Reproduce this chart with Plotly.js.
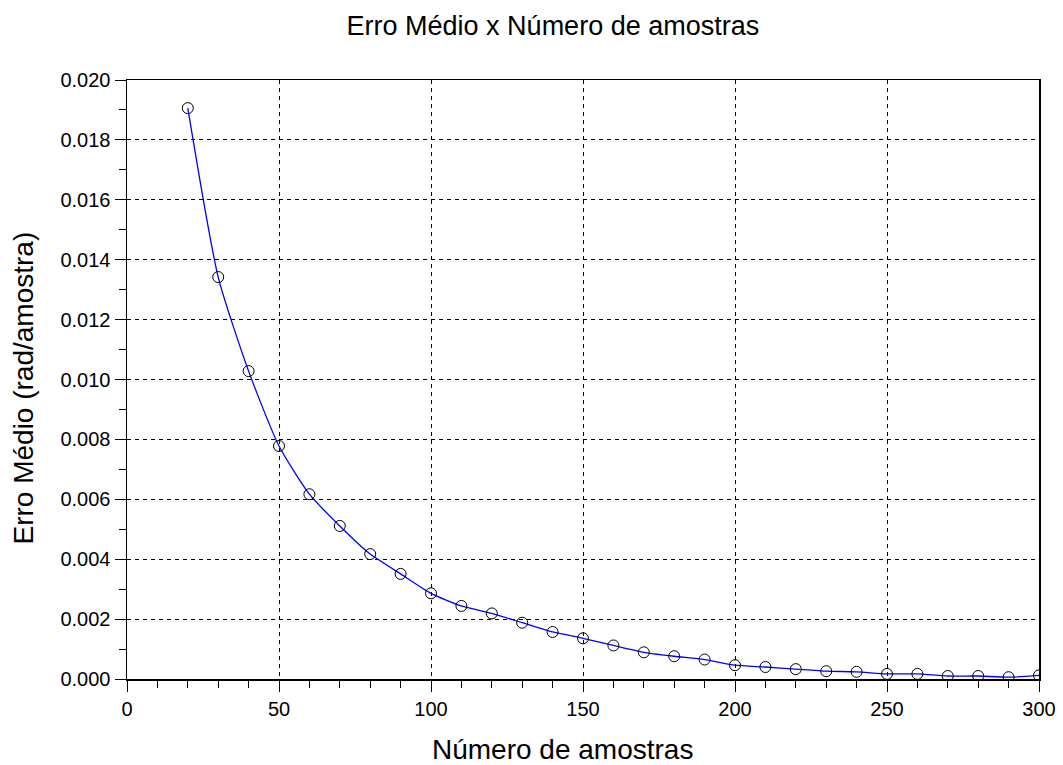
<!DOCTYPE html>
<html>
<head>
<meta charset="utf-8">
<script src="https://cdn.plot.ly/plotly-3.0.1.min.js"></script>
<style>html,body{margin:0;padding:0;background:#fff;}#chart{width:1063px;height:765px;}</style>
</head>
<body>
<div id="chart"></div>
<script>
const amostras = [20,30,40,50,60,70,80,90,100,110,120,130,140,150,160,170,180,190,200,210,220,230,240,250,260,270,280,290,300];
const erroMedio = [0.01906,0.01342,0.01028,0.00778,0.00617,0.00511,0.00417,0.00351,0.00286,0.00244,0.00219,0.00188,0.00157,0.00136,0.00112,0.00089,0.00076,0.00065,0.00046,0.00040,0.00033,0.00026,0.00024,0.00017,0.00017,0.00010,0.00010,0.00006,0.00012];

const titleText = 'Erro Médio x Número de amostras';
const xTitle = 'Número de amostras';
const yTitle = 'Erro Médio (rad/amostra)';

const fontFam = '"Liberation Sans", Arial, sans-serif';

const traces = [
  {
    x: amostras, y: erroMedio, type: 'scatter', mode: 'lines',
    line: {color: '#0000ff', width: 1.3, shape: 'spline', smoothing: 0.6},
    hoverinfo: 'skip', showlegend: false
  },
  {
    x: amostras, y: erroMedio, type: 'scatter', mode: 'markers',
    marker: {symbol: 'circle-open', size: 11, color: '#000', line: {width: 1, color: '#000'}},
    showlegend: false
  }
];

const layout = {
  width: 1063, height: 765,
  paper_bgcolor: '#fff', plot_bgcolor: '#fff',
  margin: {l: 127, r: 24, t: 80, b: 86},
  font: {family: fontFam, color: '#000'},
  title: {text: titleText, font: {size: 27, family: fontFam, color: '#000'}, x: 0.467, xref: 'paper', xanchor: 'center', y: 0.967, yref: 'container', yanchor: 'middle'},
  xaxis: {
    range: [0, 300], dtick: 50, tick0: 0,
    ticks: 'outside', ticklen: 11, tickwidth: 1, tickcolor: '#000',
    showline: true, linecolor: '#000', linewidth: 1.5, mirror: true,
    showgrid: true, gridcolor: '#000', gridwidth: 1, griddash: '4px,4px',
    zeroline: false,
    tickfont: {size: 20, color: '#000'},
    minor: {dtick: 10, ticks: 'outside', ticklen: 7, tickwidth: 1, tickcolor: '#000', showgrid: false}
  },
  yaxis: {
    range: [0, 0.020], dtick: 0.002, tick0: 0, tickformat: '.3f',
    ticks: 'outside', ticklen: 11, tickwidth: 1, tickcolor: '#000',
    showline: true, linecolor: '#000', linewidth: 1.5, mirror: true,
    showgrid: true, gridcolor: '#000', gridwidth: 1, griddash: '4px,4px',
    zeroline: false,
    tickfont: {size: 20, color: '#000'},
    minor: {dtick: 0.001, ticks: 'outside', ticklen: 7, tickwidth: 1, tickcolor: '#000', showgrid: false}
  },
  annotations: [
    {text: xTitle, xref: 'paper', yref: 'paper', x: 0.478, y: -0.118, xanchor: 'center', yanchor: 'middle',
     showarrow: false, font: {size: 28, color: '#000', family: fontFam}},
    {text: yTitle, xref: 'paper', yref: 'paper', x: -0.114, y: 0.485, xanchor: 'center', yanchor: 'middle',
     textangle: -90, showarrow: false, font: {size: 28, color: '#000', family: fontFam}}
  ]
};

Plotly.newPlot('chart', traces, layout, {displayModeBar: false, staticPlot: true});
</script>
</body>
</html>
